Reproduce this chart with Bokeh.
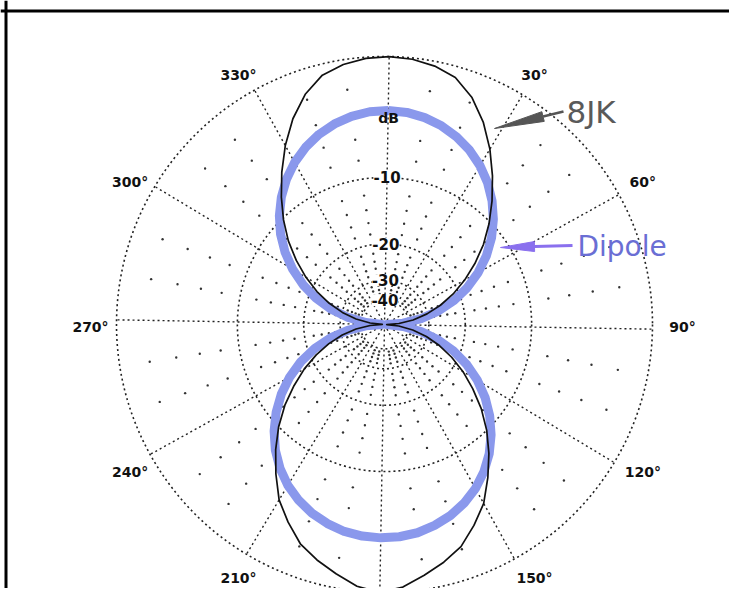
import numpy as np
from bokeh.plotting import figure
from bokeh.models import Range1d, Span
from bokeh.core.properties import value
from bokeh.embed import file_html
from bokeh.resources import INLINE

# ---------------- data ----------------
angles_deg = list(range(0, 360, 5))

dipole_db = [
    -3.75, -3.81, -4.01, -4.33, -4.79, -5.39, -6.15, -7.08, -8.20, -9.53,
    -11.1, -13.0, -15.3, -18.1, -21.6, -26.3, -33.0, -44.4, -80.0,
    -44.4, -32.9, -26.2, -21.5, -17.9, -15.1, -12.8, -10.9, -9.3, -7.95,
    -6.85, -5.95, -5.25, -4.7, -4.3, -4.0, -3.85, -3.8,
    -3.85, -4.0, -4.3, -4.7, -5.25, -5.95, -6.85, -7.95, -9.3, -10.9,
    -12.8, -15.1, -17.9, -21.5, -26.2, -32.9, -44.4, -80.0,
    -44.4, -33.0, -26.3, -21.6, -18.1, -15.3, -13.0, -11.1, -9.53, -8.20,
    -7.08, -6.15, -5.39, -4.79, -4.33, -4.01, -3.81,
]

jk8_db = [
    0.0, -0.08, -0.3, -0.7, -1.6, -2.9, -4.5, -6.3, -8.2, -10.2,
    -12.4, -15.0, -17.9, -21.2, -25.2, -30.2, -37.1, -48.7, -80.0,
    -48.8, -37.2, -30.3, -25.3, -21.3, -17.9, -15.0, -12.3, -10.0, -8.0,
    -6.2, -4.5, -3.3, -2.2, -1.5, -0.9, -0.3, 0.0,
    -0.3, -0.9, -1.5, -2.2, -3.3, -4.5, -6.2, -8.0, -10.0, -12.3,
    -15.0, -17.9, -21.3, -25.3, -30.3, -37.2, -48.8, -80.0,
    -48.7, -37.1, -30.2, -25.2, -21.2, -17.9, -15.0, -12.4, -10.2, -8.2,
    -6.3, -4.5, -2.9, -1.6, -0.7, -0.3, -0.08,
]

ring_db = [0, -10, -20, -30, -40]
ring_label_db = [-10, -20, -30, -40]
ring_labels = ["-10", "-20", "-30", "-40"]
spoke_deg = list(range(0, 360, 30))
tick_deg = [30, 60, 90, 120, 150, 210, 240, 270, 300, 330]
tick_labels = ["30°", "60°", "90°", "120°", "150°", "210°", "240°", "270°", "300°", "330°"]
dot_deg = [a for a in range(0, 360, 10) if a % 30]
dot_db = [d for d in range(-2, -40, -2) if d % 10]

# ---------------- scale / layout ----------------
W, H = 729, 588
CX, CY = 384, 324          # centre of the polar chart in page pixels
R = 268                    # radius of the 0 dB ring (px)
DB_DECADE = 38.4           # dB per decade of radius (chart's log scale)
ROT = 1.0                  # slight rotation of the chart (deg, clockwise)


def rad(db):
    return R * 10 ** (np.asarray(db, dtype=float) / DB_DECADE)


def polar(deg, r):
    t = np.radians(np.asarray(deg, dtype=float) + ROT)
    return np.asarray(r) * np.sin(t), np.asarray(r) * np.cos(t)


def pg(px, py):
    return px - CX, CY - py


p = figure(width=W, height=H,
           x_range=Range1d(-CX, W - CX),
           y_range=Range1d(CY - H, CY),
           x_axis_type=None, y_axis_type=None,
           output_backend="svg", toolbar_location=None, min_border=0)
p.outline_line_color = None
p.background_fill_color = "white"
p.border_fill_color = "white"

# frame lines (top / left)
p.add_layout(Span(location=pg(0, 10.5)[1], dimension="width", line_color="black", line_width=3))
p.add_layout(Span(location=pg(5.5, 0)[0], dimension="height", line_color="black", line_width=3))

# rings
p.circle(x=0, y=0, radius=rad(ring_db), fill_color=None, line_color="#222222",
         line_width=1.6, line_dash="2 3")

# spokes
sx, sy = polar(spoke_deg, R)
p.segment(x0=0, y0=0, x1=sx, y1=sy, line_color="#222222", line_width=1.4, line_dash="2 3")

# dot grid
gd, gb = np.meshgrid(dot_deg, dot_db)
dx, dy = polar(gd.ravel(), rad(gb.ravel()))
p.scatter(dx, dy, size=2.4, color="#333333", line_color=None)

# dipole pattern
a_closed = angles_deg + [angles_deg[0]]
dip = dipole_db + [dipole_db[0]]
bx, by = polar(a_closed, rad(dip))
p.line(bx, by, line_color="#8a98ec", line_width=9, line_join="round")

# 8JK pattern
jk = jk8_db + [jk8_db[0]]
kx, ky = polar(a_closed, rad(jk))
p.line(kx, ky, line_color="#111111", line_width=1.7, line_join="round")

# ring labels
lx, ly = polar([0] * len(ring_label_db), rad(ring_label_db))
p.text(lx, ly, text=ring_labels, text_align="center", text_baseline="middle",
       text_font=value("DejaVu Sans"), text_font_style="bold", text_font_size="15px",
       text_color="#111111", background_fill_color="white")
ux, uy = pg(388, 117)
p.text([ux], [uy], text=["dB"], text_align="center", text_baseline="middle",
       text_font=value("DejaVu Sans"), text_font_style="bold", text_font_size="14px",
       text_color="#111111")

# angle labels
t = np.radians(np.asarray(tick_deg, dtype=float))
tx = (386 - CX) + 296 * np.sin(t)
ty = (CY - 326) + 290 * np.cos(t)
p.text(tx, ty, text=tick_labels, text_align="center", text_baseline="middle",
       text_font=value("DejaVu Sans"), text_font_style="bold", text_font_size="14px",
       text_color="#111111")

# 8JK annotation arrow
tip = np.array(pg(494, 128))
tail = np.array(pg(563, 111))
d = (tail - tip) / np.linalg.norm(tail - tip)
n = np.array([-d[1], d[0]])
base = tip + 50 * d
tri = np.array([tip, base + 5 * n, base - 5 * n])
p.patch(tri[:, 0], tri[:, 1], fill_color="#555555", line_color="#555555")
p.line([base[0], tail[0]], [base[1], tail[1]], line_color="#555555", line_width=2.5)
p.text([pg(566, 111)[0]], [pg(566, 111)[1]], text=["8JK"], text_align="left",
       text_baseline="middle", text_font=value("DejaVu Sans"), text_font_size="31px",
       text_color="#5a5a5a")

# Dipole annotation arrow
tip2 = np.array(pg(500, 247))
tail2 = np.array(pg(572, 245))
d2 = (tail2 - tip2) / np.linalg.norm(tail2 - tip2)
n2 = np.array([-d2[1], d2[0]])
base2 = tip2 + 34 * d2
tri2 = np.array([tip2, base2 + 5 * n2, base2 - 5 * n2])
p.patch(tri2[:, 0], tri2[:, 1], fill_color="#8a70ee", line_color="#8a70ee")
p.line([base2[0], tail2[0]], [base2[1], tail2[1]], line_color="#8a70ee", line_width=3)
p.text([pg(577, 246)[0]], [pg(577, 246)[1]], text=["Dipole"], text_align="left",
       text_baseline="middle", text_font=value("DejaVu Sans"), text_font_size="28px",
       text_color="#6a6ed4")

open("out.html", "w").write(file_html(p, INLINE))
